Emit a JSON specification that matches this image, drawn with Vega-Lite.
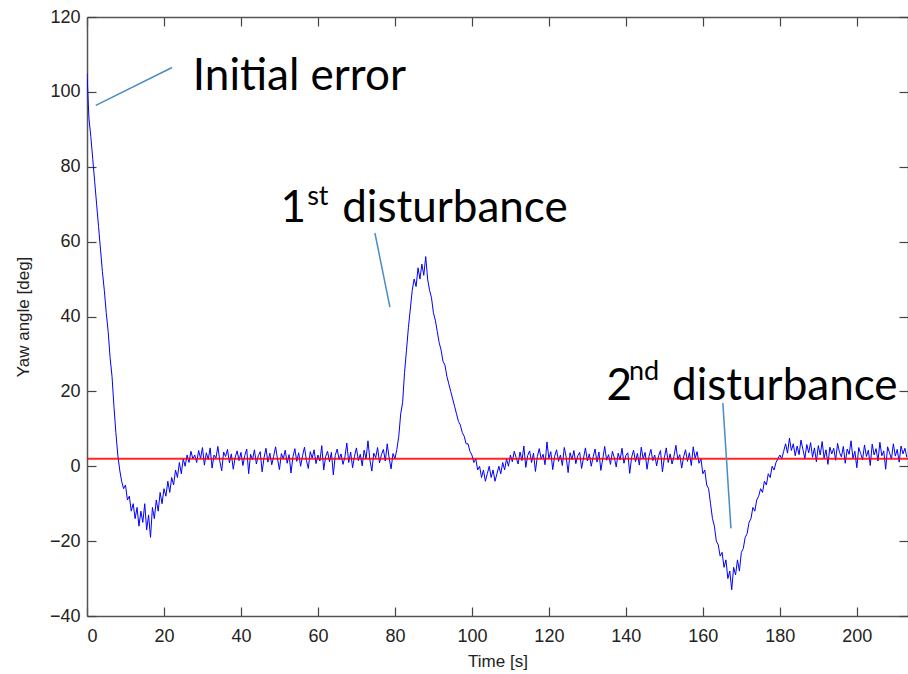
{
  "$schema": "https://vega.github.io/schema/vega-lite/v6.json",
  "width": 821,
  "height": 599,
  "autosize": {"type": "none"},
  "padding": {"left": 87, "top": 17, "right": 0, "bottom": 58},
  "background": "white",
  "config": {
    "view": {"stroke": null},
    "axis": {
      "grid": false,
      "domainColor": "#555555",
      "domainWidth": 1.5,
      "tickColor": "#444444",
      "tickWidth": 1.2,
      "labelFont": "Liberation Sans",
      "labelFontSize": 18,
      "labelColor": "#222222",
      "titleFont": "Liberation Sans",
      "titleFontSize": 17,
      "titleFontWeight": "normal",
      "titleColor": "#222222"
    }
  },
  "resolve": {"axis": {"x": "independent", "y": "independent"}},
  "datasets": {
    "signal": [
      {"t":0,"y":105},{"t":0.5,"y":93},{"t":1,"y":88},{"t":1.5,"y":82},{"t":2,"y":76},{"t":2.5,"y":70},{"t":3,"y":64},{"t":3.5,"y":58},{"t":4,"y":52},{"t":4.5,"y":47},{"t":5,"y":41},{"t":5.5,"y":36},{"t":6,"y":29},{"t":6.5,"y":24},{"t":7,"y":16},{"t":7.5,"y":9},{"t":8,"y":3},{"t":8.5,"y":-1},{"t":9,"y":-4},{"t":9.5,"y":-6},{"t":10,"y":-5},{"t":10.5,"y":-9},{"t":11,"y":-8},{"t":11.5,"y":-12},{"t":12,"y":-10},{"t":12.5,"y":-14},{"t":13,"y":-11},{"t":13.5,"y":-16},{"t":14,"y":-12},{"t":14.5,"y":-15},{"t":15,"y":-10},{"t":15.5,"y":-17},{"t":16,"y":-13},{"t":16.5,"y":-19},{"t":17,"y":-11},{"t":17.5,"y":-14},{"t":18,"y":-9},{"t":18.5,"y":-12},{"t":19,"y":-7},{"t":19.5,"y":-10},{"t":20,"y":-6},{"t":20.5,"y":-8},{"t":21,"y":-4},{"t":21.5,"y":-7},{"t":22,"y":-3},{"t":22.5,"y":-5},{"t":23,"y":-1},{"t":23.5,"y":-3},{"t":24,"y":1},{"t":24.5,"y":-2},{"t":25,"y":2},{"t":25.5,"y":0},{"t":26,"y":3},{"t":26.5,"y":1},{"t":27,"y":4},{"t":27.5,"y":2},{"t":28,"y":3},
      {"t":28.5,"y":1.0},{"t":29,"y":4.2},{"t":29.5,"y":2.1},{"t":30,"y":5.0},{"t":30.5,"y":0.3},{"t":31,"y":3.6},{"t":31.5,"y":1.8},{"t":32,"y":4.9},{"t":32.5,"y":-0.5},{"t":33,"y":3.0},{"t":33.5,"y":2.2},{"t":34,"y":5.3},{"t":34.5,"y":1.4},{"t":35,"y":-1.2},{"t":35.5,"y":3.8},{"t":36,"y":2.6},{"t":36.5,"y":4.5},{"t":37,"y":0.9},{"t":37.5,"y":3.3},{"t":38,"y":-0.8},{"t":38.5,"y":2.4},{"t":39,"y":4.1},{"t":39.5,"y":1.5},{"t":40,"y":3.7},{"t":40.5,"y":0.2},{"t":41,"y":2.9},{"t":41.5,"y":4.6},{"t":42,"y":-2.0},{"t":42.5,"y":3.2},{"t":43,"y":1.7},{"t":43.5,"y":4.4},{"t":44,"y":0.6},{"t":44.5,"y":2.8},{"t":45,"y":3.9},{"t":45.5,"y":-1.5},{"t":46,"y":2.3},{"t":46.5,"y":4.8},{"t":47,"y":1.1},{"t":47.5,"y":3.5},{"t":48,"y":0.4},{"t":48.5,"y":2.7},{"t":49,"y":5.2},{"t":49.5,"y":1.9},{"t":50,"y":-0.9},{"t":50.5,"y":3.4},{"t":51,"y":2.0},{"t":51.5,"y":4.3},{"t":52,"y":0.8},{"t":52.5,"y":3.1},{"t":53,"y":-1.8},{"t":53.5,"y":2.5},{"t":54,"y":4.7},{"t":54.5,"y":1.3},{"t":55,"y":3.6},{"t":55.5,"y":0.0},{"t":56,"y":2.8},{"t":56.5,"y":5.1},{"t":57,"y":1.6},{"t":57.5,"y":-0.6},{"t":58,"y":3.9},{"t":58.5,"y":2.2},{"t":59,"y":4.4},{"t":59.5,"y":0.7},{"t":60,"y":3.0},{"t":60.5,"y":1.4},{"t":61,"y":5.5},{"t":61.5,"y":-1.0},{"t":62,"y":2.6},{"t":62.5,"y":4.0},{"t":63,"y":1.2},{"t":63.5,"y":3.7},{"t":64,"y":-2.3},{"t":64.5,"y":2.9},{"t":65,"y":4.6},{"t":65.5,"y":1.8},{"t":66,"y":3.3},{"t":66.5,"y":0.5},{"t":67,"y":2.4},{"t":67.5,"y":6.2},{"t":68,"y":1.0},{"t":68.5,"y":3.8},{"t":69,"y":-0.4},{"t":69.5,"y":2.7},{"t":70,"y":4.9},{"t":70.5,"y":1.5},{"t":71,"y":3.2},{"t":71.5,"y":0.1},{"t":72,"y":4.3},{"t":72.5,"y":2.0},{"t":73,"y":6.8},{"t":73.5,"y":1.7},{"t":74,"y":-1.3},{"t":74.5,"y":3.5},{"t":75,"y":2.3},{"t":75.5,"y":5.0},{"t":76,"y":0.9},{"t":76.5,"y":3.1},{"t":77,"y":4.5},{"t":77.5,"y":1.4},{"t":78,"y":6.0},{"t":78.5,"y":2.2},{"t":79,"y":-0.7},{"t":79.5,"y":3.4},{"t":80,"y":2.0},
      {"t":80.5,"y":4.5},{"t":81,"y":8},{"t":81.5,"y":14},{"t":82,"y":17},{"t":82.5,"y":25},{"t":83,"y":31},{"t":83.5,"y":37},{"t":84,"y":42},{"t":84.5,"y":47},{"t":85,"y":50},{"t":85.5,"y":48},{"t":86,"y":53},{"t":86.5,"y":50},{"t":87,"y":54},{"t":87.5,"y":51},{"t":88,"y":56},{"t":88.5,"y":50},{"t":89,"y":47},{"t":89.5,"y":45},{"t":90,"y":41},{"t":90.5,"y":39},{"t":91,"y":36},{"t":91.5,"y":33},{"t":92,"y":31},{"t":92.5,"y":28},{"t":93,"y":27},{"t":93.5,"y":24},{"t":94,"y":22},{"t":94.5,"y":20},{"t":95,"y":18},{"t":95.5,"y":16},{"t":96,"y":14},{"t":96.5,"y":12},{"t":97,"y":11},{"t":97.5,"y":9},{"t":98,"y":8},{"t":98.5,"y":6},{"t":99,"y":6},{"t":99.5,"y":4},{"t":100,"y":3},{"t":100.5,"y":1},{"t":101,"y":2},{"t":101.5,"y":-1},{"t":102,"y":0},{"t":102.5,"y":-3},{"t":103,"y":-1},{"t":103.5,"y":-4},{"t":104,"y":-2},{"t":104.5,"y":0},{"t":105,"y":-3},{"t":105.5,"y":-1},{"t":106,"y":-4},{"t":106.5,"y":-2},{"t":107,"y":0},{"t":107.5,"y":-2},{"t":108,"y":1},{"t":108.5,"y":-1},{"t":109,"y":2},{"t":109.5,"y":0},{"t":110,"y":3},
      {"t":110.5,"y":1.2},{"t":111,"y":4.0},{"t":111.5,"y":2.3},{"t":112,"y":0.6},{"t":112.5,"y":3.8},{"t":113,"y":1.5},{"t":113.5,"y":5.4},{"t":114,"y":-0.3},{"t":114.5,"y":2.9},{"t":115,"y":4.1},{"t":115.5,"y":1.0},{"t":116,"y":3.5},{"t":116.5,"y":-1.4},{"t":117,"y":2.6},{"t":117.5,"y":4.7},{"t":118,"y":1.9},{"t":118.5,"y":3.2},{"t":119,"y":0.4},{"t":119.5,"y":6.5},{"t":120,"y":2.1},{"t":120.5,"y":3.9},{"t":121,"y":-0.9},{"t":121.5,"y":2.7},{"t":122,"y":4.4},{"t":122.5,"y":1.3},{"t":123,"y":3.0},{"t":123.5,"y":0.2},{"t":124,"y":5.0},{"t":124.5,"y":2.4},{"t":125,"y":-1.7},{"t":125.5,"y":3.6},{"t":126,"y":1.8},{"t":126.5,"y":4.2},{"t":127,"y":0.7},{"t":127.5,"y":2.8},{"t":128,"y":3.7},{"t":128.5,"y":-0.6},{"t":129,"y":2.2},{"t":129.5,"y":4.9},{"t":130,"y":1.4},{"t":130.5,"y":3.3},{"t":131,"y":0.0},{"t":131.5,"y":2.5},{"t":132,"y":4.6},{"t":132.5,"y":1.1},{"t":133,"y":3.8},{"t":133.5,"y":-1.1},{"t":134,"y":2.0},{"t":134.5,"y":5.3},{"t":135,"y":1.6},{"t":135.5,"y":3.1},{"t":136,"y":0.5},{"t":136.5,"y":4.0},{"t":137,"y":2.3},{"t":137.5,"y":-0.2},{"t":138,"y":3.5},{"t":138.5,"y":1.7},{"t":139,"y":4.8},{"t":139.5,"y":0.8},{"t":140,"y":2.9},{"t":140.5,"y":3.6},{"t":141,"y":-1.9},{"t":141.5,"y":2.4},{"t":142,"y":4.3},{"t":142.5,"y":1.2},{"t":143,"y":3.4},{"t":143.5,"y":0.3},{"t":144,"y":5.1},{"t":144.5,"y":2.0},{"t":145,"y":3.7},{"t":145.5,"y":-0.8},{"t":146,"y":2.6},{"t":146.5,"y":4.5},{"t":147,"y":1.5},{"t":147.5,"y":3.0},{"t":148,"y":0.1},{"t":148.5,"y":2.8},{"t":149,"y":4.2},{"t":149.5,"y":-1.5},{"t":150,"y":2.3},{"t":150.5,"y":4.9},{"t":151,"y":1.0},{"t":151.5,"y":3.3},{"t":152,"y":0.6},{"t":152.5,"y":2.7},{"t":153,"y":5.6},{"t":153.5,"y":1.8},{"t":154,"y":3.1},{"t":154.5,"y":-0.5},{"t":155,"y":2.5},{"t":155.5,"y":4.4},{"t":156,"y":1.3},{"t":156.5,"y":3.6},{"t":157,"y":0.2},{"t":157.5,"y":5.2},{"t":158,"y":2.1},{"t":158.5,"y":3.9},{"t":159,"y":0.8},{"t":159.5,"y":2.0},
      {"t":160,"y":-2},{"t":160.5,"y":-1},{"t":161,"y":-5},{"t":161.5,"y":-6},{"t":162,"y":-10},{"t":162.5,"y":-14},{"t":163,"y":-16},{"t":163.5,"y":-20},{"t":164,"y":-21},{"t":164.5,"y":-24},{"t":165,"y":-23},{"t":165.5,"y":-27},{"t":166,"y":-25},{"t":166.5,"y":-30},{"t":167,"y":-28},{"t":167.5,"y":-33},{"t":168,"y":-27},{"t":168.5,"y":-29},{"t":169,"y":-25},{"t":169.5,"y":-28},{"t":170,"y":-23},{"t":170.5,"y":-22},{"t":171,"y":-19},{"t":171.5,"y":-18},{"t":172,"y":-15},{"t":172.5,"y":-14},{"t":173,"y":-11},{"t":173.5,"y":-12},{"t":174,"y":-9},{"t":174.5,"y":-8},{"t":175,"y":-6},{"t":175.5,"y":-7},{"t":176,"y":-4},{"t":176.5,"y":-5},{"t":177,"y":-2},{"t":177.5,"y":-3},{"t":178,"y":0},{"t":178.5,"y":-1},{"t":179,"y":1},{"t":179.5,"y":2},{"t":180,"y":3},{"t":180.5,"y":2},{"t":181,"y":4},{"t":181.5,"y":6},
      {"t":182,"y":3.5},{"t":182.5,"y":7.5},{"t":183,"y":4.2},{"t":183.5,"y":6.0},{"t":184,"y":2.8},{"t":184.5,"y":5.4},{"t":185,"y":3.1},{"t":185.5,"y":7.0},{"t":186,"y":4.5},{"t":186.5,"y":2.0},{"t":187,"y":5.8},{"t":187.5,"y":3.6},{"t":188,"y":6.3},{"t":188.5,"y":2.4},{"t":189,"y":4.9},{"t":189.5,"y":1.2},{"t":190,"y":5.5},{"t":190.5,"y":3.0},{"t":191,"y":6.6},{"t":191.5,"y":2.2},{"t":192,"y":4.4},{"t":192.5,"y":0.5},{"t":193,"y":5.1},{"t":193.5,"y":3.3},{"t":194,"y":4.8},{"t":194.5,"y":1.6},{"t":195,"y":6.1},{"t":195.5,"y":3.7},{"t":196,"y":2.5},{"t":196.5,"y":5.3},{"t":197,"y":0.8},{"t":197.5,"y":4.6},{"t":198,"y":3.2},{"t":198.5,"y":6.8},{"t":199,"y":2.1},{"t":199.5,"y":4.0},{"t":200,"y":-0.4},{"t":200.5,"y":5.0},{"t":201,"y":3.4},{"t":201.5,"y":1.8},{"t":202,"y":5.7},{"t":202.5,"y":2.6},{"t":203,"y":4.3},{"t":203.5,"y":0.2},{"t":204,"y":5.9},{"t":204.5,"y":3.0},{"t":205,"y":4.7},{"t":205.5,"y":1.4},{"t":206,"y":6.4},{"t":206.5,"y":2.8},{"t":207,"y":4.1},{"t":207.5,"y":-0.8},{"t":208,"y":5.2},{"t":208.5,"y":3.6},{"t":209,"y":1.9},{"t":209.5,"y":6.0},{"t":210,"y":2.7},{"t":210.5,"y":4.5},{"t":211,"y":1.1},{"t":211.5,"y":5.4},{"t":212,"y":3.3},{"t":212.5,"y":4.8},{"t":213,"y":2.4}
    ],
    "reference": [
      {"level": 2}
    ],
    "leaders": [
      {"x1": 2.3, "y1": 96.4, "x2": 22.1, "y2": 106.5},
      {"x1": 74.8, "y1": 62.3, "x2": 78.7, "y2": 42.5},
      {"x1": 165.2, "y1": 16.9, "x2": 167.3, "y2": -16.6}
    ],
    "labels": [
      {"x": 27.5, "y": 100.5, "text": "Initial error"},
      {"x": 50.3, "y": 65.2, "text": "1"},
      {"x": 66.3, "y": 65.2, "text": "disturbance"},
      {"x": 135.0, "y": 17.7, "text": "2"},
      {"x": 152.0, "y": 17.7, "text": "disturbance"}
    ],
    "sups": [
      {"x": 57.2, "y": 69.8, "text": "st"},
      {"x": 140.8, "y": 23.0, "text": "nd"}
    ]
  },
  "layer": [
    {
      "data": {"name": "signal"},
      "mark": {"type": "line", "color": "#0000ff", "strokeWidth": 1, "clip": true},
      "encoding": {
        "x": {"field": "t", "type": "quantitative", "scale": {"domain": [0, 213.3], "nice": false, "zero": false},
          "axis": {"orient": "bottom", "values": [0,20,40,60,80,100,120,140,160,180,200], "tickSize": -9, "labelPadding": 20, "title": "Time [s]", "titlePadding": 8}},
        "y": {"field": "y", "type": "quantitative", "scale": {"domain": [-40, 120], "nice": false},
          "axis": {"orient": "left", "values": [-40,-20,0,20,40,60,80,100,120], "tickSize": -9, "labelPadding": 16, "title": "Yaw angle [deg]", "titlePadding": 17}}
      }
    },
    {
      "data": {"name": "reference"},
      "mark": {"type": "rule", "color": "#ff0000", "strokeWidth": 2, "opacity": 0.85},
      "encoding": {
        "y": {"field": "level", "type": "quantitative",
          "axis": {"orient": "right", "values": [-40,-20,0,20,40,60,80,100,120], "tickSize": -9, "labels": false, "title": null}},
        "x": {"datum": 0, "type": "quantitative",
          "axis": {"orient": "top", "values": [0,20,40,60,80,100,120,140,160,180,200], "tickSize": -9, "labels": false, "title": null}},
        "x2": {"datum": 213.3}
      }
    },
    {
      "data": {"name": "leaders"},
      "mark": {"type": "rule", "color": "#4a8cc6", "strokeWidth": 1.5},
      "encoding": {
        "x": {"field": "x1", "type": "quantitative", "axis": null},
        "y": {"field": "y1", "type": "quantitative", "axis": null},
        "x2": {"field": "x2"},
        "y2": {"field": "y2"}
      }
    },
    {
      "data": {"name": "labels"},
      "mark": {"type": "text", "font": "Lato", "fontSize": 44, "align": "left", "baseline": "alphabetic", "color": "#000000"},
      "encoding": {
        "x": {"field": "x", "type": "quantitative", "axis": null},
        "y": {"field": "y", "type": "quantitative", "axis": null},
        "text": {"field": "text"}
      }
    },
    {
      "data": {"name": "sups"},
      "mark": {"type": "text", "font": "Lato", "fontSize": 27, "align": "left", "baseline": "alphabetic", "color": "#000000"},
      "encoding": {
        "x": {"field": "x", "type": "quantitative", "axis": null},
        "y": {"field": "y", "type": "quantitative", "axis": null},
        "text": {"field": "text"}
      }
    }
  ]
}
